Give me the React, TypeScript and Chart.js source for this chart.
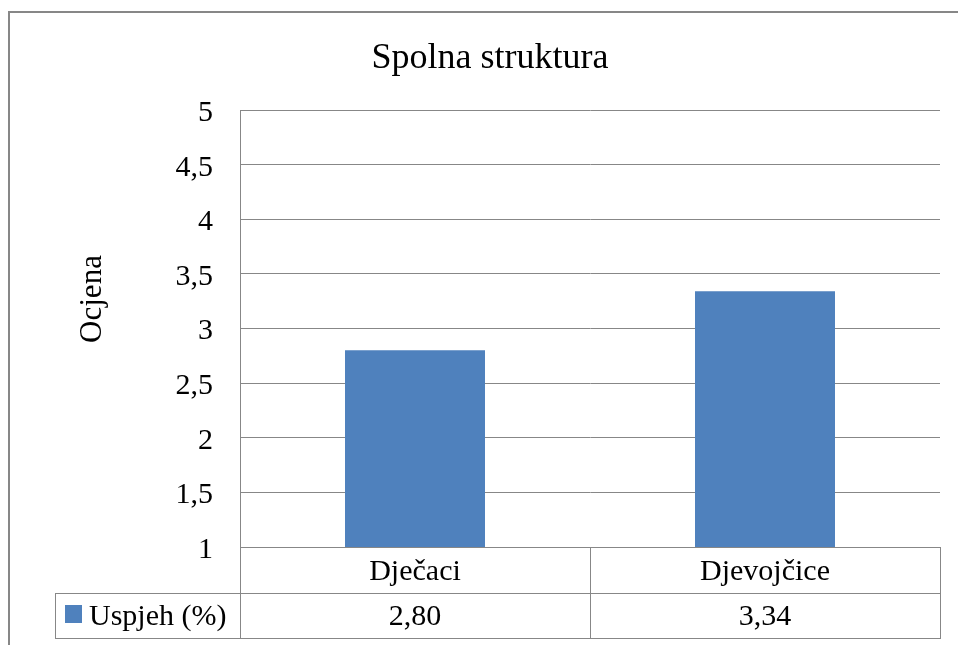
import React, { useEffect, useRef } from "react";
import { Chart, registerables } from "chart.js";

Chart.register(...registerables);

const chartTitle = "Spolna struktura";
const yAxisTitle = "Ocjena";
const seriesName = "Uspjeh (%)";
const categories = ["Dječaci", "Djevojčice"];
const values = [2.8, 3.34];
const yMin = 1;
const yMax = 5;
const yStep = 0.5;

const FONT = "'Liberation Serif', 'Times New Roman', serif";
const GRID = "#878787";
const BAR = "#4F81BD";

const fmt = (v: number, d?: number) =>
  (d !== undefined ? v.toFixed(d) : String(v)).replace(".", ",");

const decorPlugin = {
  id: "decor",
  beforeDraw(chart: any) {
    const ctx = chart.ctx;
    ctx.save();
    ctx.fillStyle = "#ffffff";
    ctx.fillRect(0, 0, chart.width, chart.height);
    ctx.strokeStyle = GRID;
    ctx.lineWidth = 2;
    ctx.strokeRect(9, 12, chart.width + 20, chart.height + 20);
    ctx.restore();
  },
  afterDraw(chart: any) {
    const ctx = chart.ctx;
    const area = chart.chartArea;
    const xs = chart.scales.x;
    ctx.save();
    // title
    ctx.fillStyle = "#000";
    ctx.font = `36px ${FONT}`;
    ctx.textAlign = "center";
    ctx.textBaseline = "alphabetic";
    ctx.fillText(chartTitle, 490, 68);
    // y-axis title
    ctx.save();
    ctx.translate(101, 299);
    ctx.rotate(-Math.PI / 2);
    ctx.font = `31px ${FONT}`;
    ctx.fillText(yAxisTitle, 0, 0);
    ctx.restore();

    // data table
    const row1Top = area.bottom;
    const row1Bot = row1Top + 46;
    const row2Bot = row1Bot + 45;
    const legendLeft = 55;
    const n = categories.length;
    const catW = (area.right - area.left) / n;
    ctx.strokeStyle = GRID;
    ctx.lineWidth = 1;
    ctx.beginPath();
    const h = (x1: number, x2: number, y: number) => {
      ctx.moveTo(x1, Math.round(y) + 0.5);
      ctx.lineTo(x2, Math.round(y) + 0.5);
    };
    const v = (x: number, y1: number, y2: number) => {
      ctx.moveTo(Math.round(x) + 0.5, y1);
      ctx.lineTo(Math.round(x) + 0.5, y2);
    };
    h(legendLeft, area.right + 1, row1Bot);
    h(legendLeft, area.right + 1, row2Bot);
    v(legendLeft, row1Bot, row2Bot + 1);
    for (let i = 0; i <= n; i++) {
      v(area.left + catW * i, row1Top, row2Bot + 1);
    }
    ctx.stroke();

    ctx.fillStyle = "#000";
    ctx.font = `30px ${FONT}`;
    ctx.textAlign = "center";
    ctx.textBaseline = "middle";
    categories.forEach((c, i) => {
      const cx = xs.getPixelForValue(i);
      ctx.fillText(c, cx, (row1Top + row1Bot) / 2 + 2);
      ctx.fillText(fmt(values[i], 2), cx, (row1Bot + row2Bot) / 2 + 2);
    });
    // legend key
    ctx.fillStyle = BAR;
    ctx.fillRect(65, 605, 17, 18);
    ctx.fillStyle = "#000";
    ctx.textAlign = "left";
    ctx.fillText(seriesName, 89, (row1Bot + row2Bot) / 2 + 2);
    ctx.restore();
  },
};

export default function App() {
  const ref = useRef<HTMLCanvasElement | null>(null);
  useEffect(() => {
    if (!ref.current) return;
    const chart = new Chart(ref.current, {
      type: "bar",
      data: {
        labels: categories,
        datasets: [
          {
            label: seriesName,
            data: values,
            backgroundColor: BAR,
            borderWidth: 0,
            categoryPercentage: 1,
            barPercentage: 0.4,
          },
        ],
      },
      options: {
        responsive: false,
        animation: false,
        devicePixelRatio: 1,
        layout: { padding: { top: 110, right: 18, bottom: 98, left: 0 } },
        plugins: {
          legend: { display: false },
          title: { display: false },
          tooltip: { enabled: false },
        },
        scales: {
          x: {
            grid: { display: false },
            border: { display: false },
            ticks: { display: false },
            afterFit: (s: any) => {
              s.height = 0;
            },
          },
          y: {
            min: yMin,
            max: yMax,
            grid: { color: GRID, lineWidth: 1, drawTicks: false },
            border: { display: true, color: GRID, width: 1 },
            ticks: {
              stepSize: yStep,
              padding: 27,
              labelOffset: 3,
              color: "#000",
              font: { family: FONT, size: 30 },
              callback: (val: any) => fmt(Number(val)),
            },
            afterFit: (s: any) => {
              s.width = 240;
            },
          },
        },
      },
      plugins: [decorPlugin],
    });
    return () => chart.destroy();
  }, []);
  return (
    <div style={{ position: "fixed", left: 0, top: 0, width: 958, height: 645 }}>
      <canvas ref={ref} width={958} height={645} style={{ display: "block" }} />
    </div>
  );
}
